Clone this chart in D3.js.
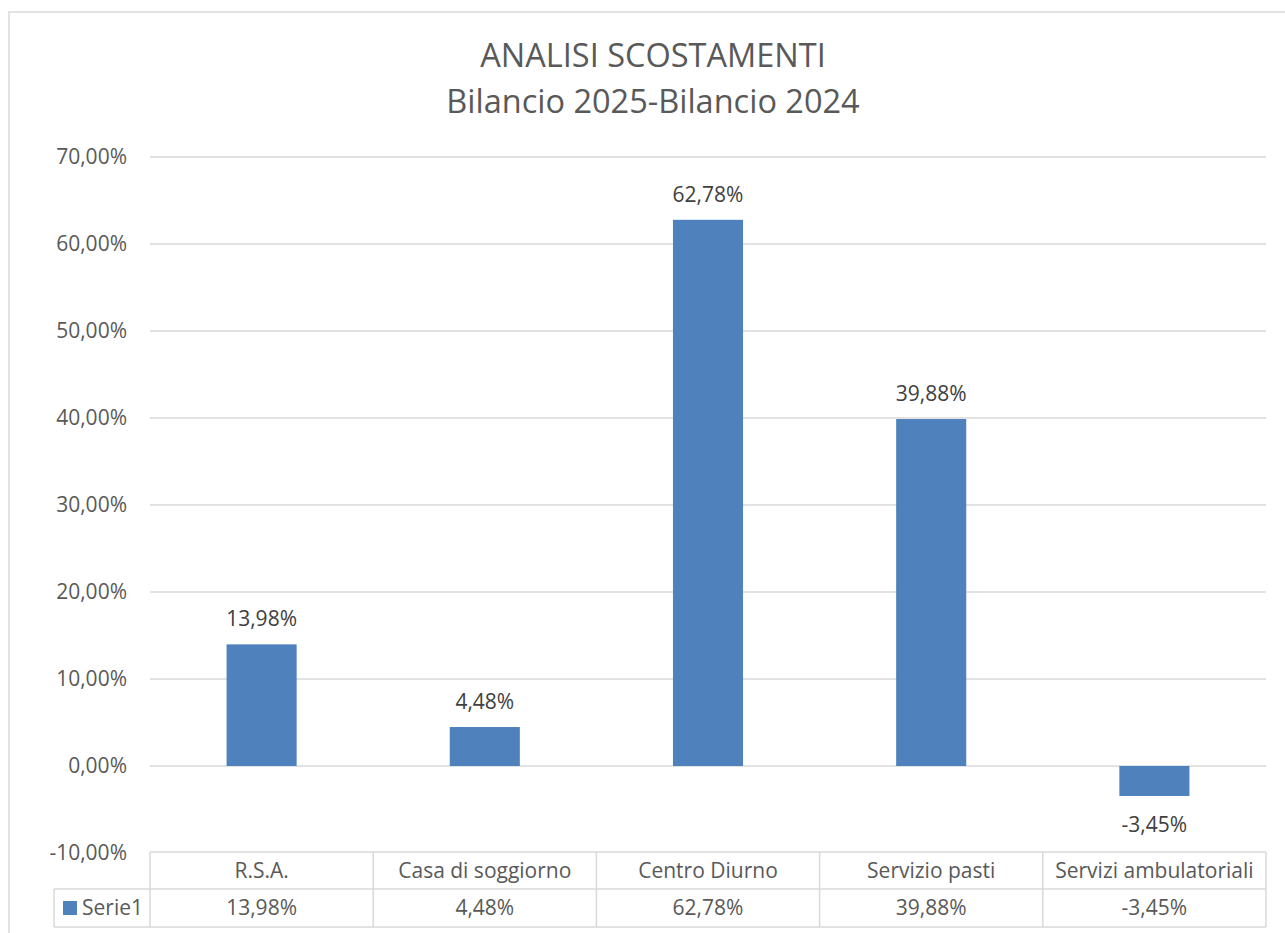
<!DOCTYPE html>
<html lang="it">
<head>
  <meta charset="UTF-8">
  <title>Analisi scostamenti</title>
  <style>
    body { margin: 0; background: #fff; }
    text { font-family: "Open Sans", sans-serif; }
  </style>
</head>
<body>
  <div id="chart"></div>
  <script src="https://d3js.org/d3.v7.min.js"></script>
  <script>
    // chart data
    const categories = ['R.S.A.', 'Casa di soggiorno', 'Centro Diurno', 'Servizio pasti', 'Servizi ambulatoriali'];
    const values = [13.98, 4.48, 62.78, 39.88, -3.45];
    const seriesName = 'Serie1';
    const yTicks = [-10, 0, 10, 20, 30, 40, 50, 60, 70];
    const titleLines = ['ANALISI SCOSTAMENTI', 'Bilancio 2025-Bilancio 2024'];

    const width = 1285;
    const height = 933;
    const plotLeft = 150, plotRight = 1266, plotTop = 157, plotBottom = 853;
    const fontSize = 21;

    const fmt = v => v.toFixed(2).replace('.', ',') + '%';

    const svg = d3.select('#chart')
      .append('svg')
      .attr('width', width)
      .attr('height', height);

    // outer chart frame (runs off the page on right/bottom)
    svg.append('rect')
      .attr('x', 9).attr('y', 12)
      .attr('width', 1400).attr('height', 1000)
      .attr('fill', 'none')
      .attr('stroke', '#d9d9d9')
      .attr('stroke-width', 1.5);

    svg.selectAll('.title')
      .data(titleLines)
      .enter()
      .append('text')
      .attr('class', 'title')
      .attr('x', 653)
      .attr('y', (d, i) => 67 + i * 46)
      .attr('text-anchor', 'middle')
      .attr('font-size', 32.5)
      .attr('fill', '#595959')
      .text(d => d);

    const yScale = d3.scaleLinear()
      .domain([-10, 70])
      .range([plotBottom, plotTop]);

    const xScale = d3.scaleBand()
      .domain(categories)
      .range([plotLeft, plotRight])
      .paddingInner(0.686)
      .paddingOuter(0.343);

    const colScale = d3.scaleBand()
      .domain(categories)
      .range([plotLeft, plotRight]);

    // gridlines
    svg.append('g')
      .selectAll('line')
      .data(yTicks.filter(t => t > -10))
      .enter()
      .append('line')
      .attr('x1', plotLeft).attr('x2', plotRight)
      .attr('y1', d => yScale(d)).attr('y2', d => yScale(d))
      .attr('stroke', '#d9d9d9')
      .attr('stroke-width', 1.5);

    // y axis labels
    const yAxis = d3.axisLeft(yScale)
      .tickValues(yTicks)
      .tickSize(0)
      .tickPadding(23)
      .tickFormat(fmt);

    svg.append('g')
      .attr('transform', `translate(${plotLeft},0)`)
      .call(yAxis)
      .call(g => g.select('.domain').remove())
      .call(g => g.selectAll('text')
        .attr('font-family', '"Open Sans", sans-serif')
        .attr('font-size', fontSize)
        .attr('fill', '#595959'));

    // bars
    svg.selectAll('.bar')
      .data(values)
      .enter()
      .append('rect')
      .attr('class', 'bar')
      .attr('x', (d, i) => xScale(categories[i]))
      .attr('width', xScale.bandwidth())
      .attr('y', d => yScale(Math.max(0, d)))
      .attr('height', d => Math.abs(yScale(d) - yScale(0)))
      .attr('fill', '#4f81bd');

    // data labels
    svg.selectAll('.label')
      .data(values)
      .enter()
      .append('text')
      .attr('class', 'label')
      .attr('x', (d, i) => xScale(categories[i]) + xScale.bandwidth() / 2)
      .attr('y', d => d >= 0 ? yScale(d) - 18 : yScale(d) + 36)
      .attr('text-anchor', 'middle')
      .attr('font-size', fontSize)
      .attr('fill', '#404040')
      .text(fmt);

    // data table
    const rowTop = 852, rowMid = 889, rowBot = 927, legendLeft = 54;
    const table = svg.append('g')
      .attr('stroke', '#d9d9d9')
      .attr('stroke-width', 1.5);

    table.append('line').attr('x1', plotLeft).attr('x2', plotRight).attr('y1', rowTop).attr('y2', rowTop);
    table.append('line').attr('x1', legendLeft).attr('x2', plotRight).attr('y1', rowMid).attr('y2', rowMid);
    table.append('line').attr('x1', legendLeft).attr('x2', plotRight).attr('y1', rowBot).attr('y2', rowBot);
    table.append('line').attr('x1', legendLeft).attr('x2', legendLeft).attr('y1', rowMid).attr('y2', rowBot);

    table.selectAll('.col')
      .data(categories.concat(['end']))
      .enter()
      .append('line')
      .attr('x1', (d, i) => i < categories.length ? colScale(d) : plotRight)
      .attr('x2', (d, i) => i < categories.length ? colScale(d) : plotRight)
      .attr('y1', rowTop).attr('y2', rowBot);

    svg.selectAll('.cat')
      .data(categories)
      .enter()
      .append('text')
      .attr('x', d => colScale(d) + colScale.bandwidth() / 2)
      .attr('y', 878)
      .attr('text-anchor', 'middle')
      .attr('font-size', fontSize)
      .attr('fill', '#595959')
      .text(d => d);

    svg.selectAll('.val')
      .data(values)
      .enter()
      .append('text')
      .attr('x', (d, i) => colScale(categories[i]) + colScale.bandwidth() / 2)
      .attr('y', 915)
      .attr('text-anchor', 'middle')
      .attr('font-size', fontSize)
      .attr('fill', '#595959')
      .text(fmt);

    svg.append('rect')
      .attr('x', 63).attr('y', 901)
      .attr('width', 14).attr('height', 14)
      .attr('fill', '#4f81bd');

    svg.append('text')
      .attr('x', 82).attr('y', 915)
      .attr('font-size', fontSize)
      .attr('fill', '#595959')
      .text(seriesName);
  </script>
</body>
</html>
